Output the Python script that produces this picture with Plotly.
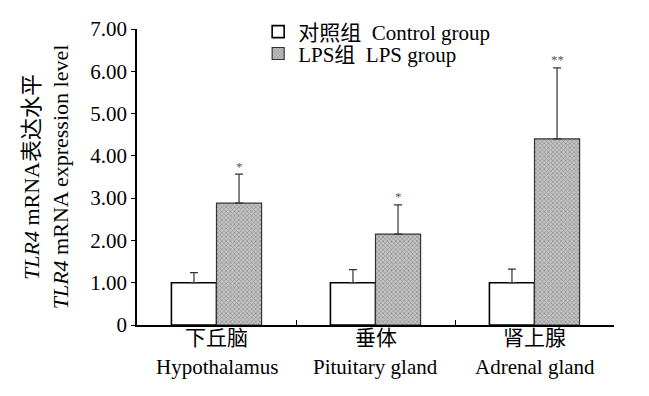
import plotly.graph_objects as go

categories = ["下丘脑", "垂体", "肾上腺"]
categories_en = ["Hypothalamus", "Pituitary gland", "Adrenal gland"]
control_vals = [1.00, 1.00, 1.00]
control_err = [0.24, 0.31, 0.32]
lps_vals = [2.88, 2.15, 4.40]
lps_err = [0.69, 0.69, 1.68]
lps_sig = ["*", "*", "**"]
ytick_vals = [0, 1, 2, 3, 4, 5, 6, 7]
ytick_text = ["0", "1.00", "2.00", "3.00", "4.00", "5.00", "6.00", "7.00"]

FONT = "Liberation Serif, Times New Roman, Noto Sans CJK SC"

fig = go.Figure()
fig.add_trace(go.Bar(
    x=categories, y=control_vals, name="对照组  Control group", legend="legend",
    marker=dict(color="white", line=dict(color="black", width=1.6)),
    error_y=dict(type="data", array=control_err, arrayminus=[0]*3, symmetric=False,
                 color="#333333", thickness=1.2, width=4),
))
fig.add_trace(go.Bar(
    x=categories, y=lps_vals, name="LPS组  LPS group", legend="legend2",
    marker=dict(color="#9a9a9a", line=dict(color="#333333", width=1.2),
                pattern=dict(shape="x", size=3, solidity=0.4, fgcolor="#555555", bgcolor="#c4c4c4")),
    error_y=dict(type="data", array=lps_err, arrayminus=[0]*3, symmetric=False,
                 color="#333333", thickness=1.2, width=4),
))

annotations = []
for c, v, e, s in zip(categories, lps_vals, lps_err, lps_sig):
    annotations.append(dict(x=c, y=v + e, xref="x", yref="y", text=s, showarrow=False,
                            xshift=22.5, yshift=8, font=dict(size=13, color="#555555", family=FONT)))
for c, en in zip(categories, categories_en):
    annotations.append(dict(x=c, y=0, xref="x", yref="y", text=c, showarrow=False,
                            yshift=-13, font=dict(size=21, color="black", family=FONT)))
    annotations.append(dict(x=c, y=0, xref="x", yref="y", text=en, showarrow=False,
                            yshift=-42, font=dict(size=21, color="black", family=FONT)))

legend_common = dict(xanchor="left", yanchor="middle", bgcolor="rgba(0,0,0,0)",
                     font=dict(size=21, family=FONT, color="black"), itemwidth=30)
fig.update_layout(
    width=649, height=396,
    margin=dict(l=137, r=35, t=29, b=71, autoexpand=False),
    paper_bgcolor="white", plot_bgcolor="white",
    barmode="group", bargap=0.433, bargroupgap=0,
    font=dict(family=FONT, size=21, color="black"),
    showlegend=True,
    legend=dict(x=0.254, y=0.990, **legend_common),
    legend2=dict(x=0.254, y=0.916, **legend_common),
    annotations=annotations,
)
fig.update_xaxes(showline=True, linecolor="black", linewidth=1.5, ticks="inside", ticklen=5,
                 tickson="boundaries", tickcolor="black", showticklabels=False, showgrid=False,
                 zeroline=False)
fig.update_yaxes(range=[0, 7], tickvals=ytick_vals, ticktext=ytick_text, showline=True,
                 linecolor="black", linewidth=1.5, ticks="outside", ticklen=4, tickcolor="black",
                 showgrid=False, zeroline=False, tickfont=dict(size=21, family=FONT),
                 title=dict(text="<i>TLR4</i> mRNA表达水平<br><i>TLR4</i> mRNA expression level",
                            font=dict(size=22, family=FONT), standoff=16))
fig.write_html("out.html", config={"displayModeBar": False},
               post_script="document.body.style.margin='0px';")
